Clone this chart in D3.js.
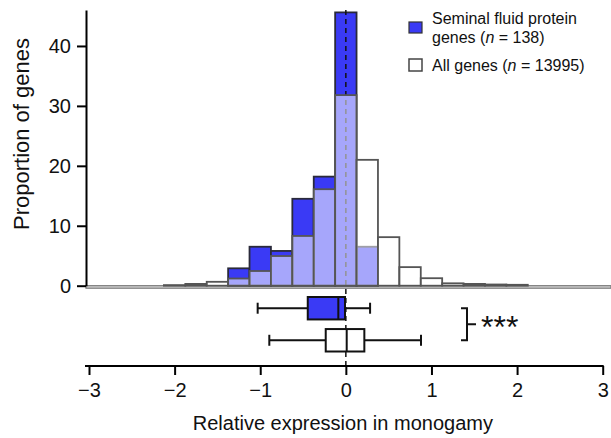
<!DOCTYPE html>
<html>
<head>
<meta charset="utf-8">
<script src="https://cdn.jsdelivr.net/npm/d3@7"></script>
<style>
  body { margin: 0; background: #fff; }
  text { font-family: "Liberation Sans", Arial, sans-serif; fill: #111; }
</style>
</head>
<body>
<div id="chart"></div>
<script>
// Histogram bins (centre of each 0.25-wide bin) and percentages.
var binWidth = 0.25;
var allCenters = [-2, -1.75, -1.5, -1.25, -1, -0.75, -0.5, -0.25, 0, 0.25, 0.5, 0.75, 1, 1.25, 1.5, 1.75, 2];
var allValues = [0.1, 0.3, 0.65, 1.2, 2.45, 4.95, 8.3, 16.1, 31.8, 21.0, 8.1, 3.1, 1.25, 0.4, 0.3, 0.2, 0.15];
var sfpCenters = [-1.25, -1, -0.75, -0.5, -0.25, 0, 0.25];
var sfpValues = [2.9, 6.5, 5.8, 14.5, 18.2, 45.6, 6.5];

// Box plots: [low whisker, q1, median, q3, high whisker].
var boxNames = ["sfp", "all"];
var boxStats = [
  [-1.03, -0.445, -0.088, -0.01, 0.283],
  [-0.894, -0.235, 0.01, 0.216, 0.878]
];

var xTicks = [-3, -2, -1, 0, 1, 2, 3];
var yTicks = [0, 10, 20, 30, 40];

var svgWidth = 611;
var svgHeight = 438;
var blue = "#3a3af5";

var svg = d3.select("#chart")
  .append("svg")
  .attr("width", svgWidth)
  .attr("height", svgHeight);

// Scales.
var x = d3.scaleLinear().domain([-3, 3]).range([89, 602.7]);
var y = d3.scaleLinear().domain([0, 46]).range([285.7, 10]);
var yBox = d3.scaleBand().domain(boxNames).range([297, 351.5]).paddingInner(0.3);

var sfp = sfpCenters.map((c, i) => ({c: c, v: sfpValues[i]}));
var all = allCenters.map((c, i) => ({c: c, v: allValues[i]}));

// Baseline strip of empty bins.
svg.append("rect")
  .attr("x", 86)
  .attr("y", y(0))
  .attr("width", svgWidth - 86)
  .attr("height", 2.5)
  .attr("fill", "#d5d5d5")
  .attr("stroke", "#7a7a7a")
  .attr("stroke-width", 1.2);

// Seminal fluid protein bars.
svg.selectAll(".sfp")
  .data(sfp)
  .enter()
  .append("rect")
  .attr("class", "sfp")
  .attr("x", d => x(d.c - binWidth / 2))
  .attr("y", d => y(d.v))
  .attr("width", d => x(d.c + binWidth / 2) - x(d.c - binWidth / 2))
  .attr("height", d => y(0) - y(d.v))
  .attr("fill", blue)
  .attr("stroke", "#2a2a3a")
  .attr("stroke-width", 1.8);

// Dashed line at zero.
svg.append("line")
  .attr("x1", x(0))
  .attr("x2", x(0))
  .attr("y1", y(46))
  .attr("y2", 366)
  .attr("stroke", "#111")
  .attr("stroke-width", 1.5)
  .attr("stroke-dasharray", "5,4");

// All genes bars, translucent white over the blue.
svg.selectAll(".all")
  .data(all)
  .enter()
  .append("rect")
  .attr("class", "all")
  .attr("x", d => x(d.c - binWidth / 2))
  .attr("y", d => y(d.v))
  .attr("width", d => x(d.c + binWidth / 2) - x(d.c - binWidth / 2))
  .attr("height", d => y(0) - y(d.v))
  .attr("fill", "#fff")
  .attr("fill-opacity", 0.55)
  .attr("stroke", "#555")
  .attr("stroke-width", 1.8);

// Y axis.
var leftAxis = d3.axisLeft(y).tickValues(yTicks).tickSize(9).tickSizeOuter(0).tickPadding(6);
var gy = svg.append("g")
  .attr("transform", "translate(86,0)")
  .call(leftAxis);
gy.select(".domain").attr("stroke-width", 2);
gy.selectAll(".tick line").attr("stroke-width", 2);
gy.selectAll(".tick text").attr("font-size", 20).attr("font-family", "Liberation Sans, Arial, sans-serif").attr("fill", "#111");

svg.append("text")
  .attr("transform", "translate(29,134) rotate(-90)")
  .attr("text-anchor", "middle")
  .attr("font-size", 22)
  .text("Proportion of genes");

// Box plots.
var boxes = svg.selectAll(".box")
  .data(boxStats)
  .enter()
  .append("g")
  .attr("class", "box");

boxes.each(function(s, i) {
  var g = d3.select(this);
  var top = yBox(boxNames[i]);
  var h = yBox.bandwidth();
  var mid = top + h / 2;
  g.append("line").attr("x1", x(s[0])).attr("x2", x(s[1])).attr("y1", mid).attr("y2", mid);
  g.append("line").attr("x1", x(s[3])).attr("x2", x(s[4])).attr("y1", mid).attr("y2", mid);
  g.append("line").attr("x1", x(s[0])).attr("x2", x(s[0])).attr("y1", mid - 5.5).attr("y2", mid + 5.5);
  g.append("line").attr("x1", x(s[4])).attr("x2", x(s[4])).attr("y1", mid - 5.5).attr("y2", mid + 5.5);
  g.append("rect")
    .attr("x", x(s[1]))
    .attr("y", top)
    .attr("width", x(s[3]) - x(s[1]))
    .attr("height", h)
    .attr("fill", i === 0 ? blue : "#fff");
  g.append("line").attr("x1", x(s[2])).attr("x2", x(s[2])).attr("y1", top).attr("y2", top + h);
  g.selectAll("line, rect").attr("stroke", "#111").attr("stroke-width", 2);
});

// Significance bracket.
var y1 = yBox("sfp") + yBox.bandwidth() / 2;
var y2 = yBox("all") + yBox.bandwidth() / 2;
var bx = x(1.415);
svg.append("path")
  .attr("d", `M${bx - 6},${y1}H${bx}V${y2}H${bx - 6}M${bx},${(y1 + y2) / 2}H${bx + 9}`)
  .attr("fill", "none")
  .attr("stroke", "#111")
  .attr("stroke-width", 2);
svg.append("text")
  .attr("x", bx + 14)
  .attr("y", (y1 + y2) / 2 + 14)
  .attr("font-size", 32)
  .text("***");

// X axis.
var bottomAxis = d3.axisBottom(x).tickValues(xTicks).tickSize(9).tickSizeOuter(0).tickPadding(8).tickFormat(d3.format("d"));
var gx = svg.append("g")
  .attr("transform", "translate(0,366)")
  .call(bottomAxis);
gx.select(".domain").attr("d", `M${x(-3) - 4},0H${x(3) + 1}`).attr("stroke-width", 2);
gx.selectAll(".tick line").attr("stroke-width", 2);
gx.selectAll(".tick text").attr("font-size", 20).attr("font-family", "Liberation Sans, Arial, sans-serif").attr("fill", "#111");

svg.append("text")
  .attr("x", x(0) - 3)
  .attr("y", 430)
  .attr("text-anchor", "middle")
  .attr("font-size", 20)
  .text("Relative expression in monogamy");

// Legend.
var legend = svg.append("g").attr("transform", "translate(409,22)");
legend.append("rect").attr("x", 0).attr("y", 0).attr("width", 13).attr("height", 11)
  .attr("fill", blue).attr("stroke", "#333").attr("stroke-width", 1.2);
legend.append("rect").attr("x", 0).attr("y", 37).attr("width", 13).attr("height", 12)
  .attr("fill", "#fff").attr("stroke", "#444").attr("stroke-width", 1.5);
legend.append("text").attr("x", 23).attr("y", 2).attr("font-size", 16).text("Seminal fluid protein");
var l2 = legend.append("text").attr("x", 23).attr("y", 20.5).attr("font-size", 16);
l2.append("tspan").text("genes (");
l2.append("tspan").attr("font-style", "italic").text("n");
l2.append("tspan").text(" = 138)");
var l3 = legend.append("text").attr("x", 23).attr("y", 49).attr("font-size", 16);
l3.append("tspan").text("All genes (");
l3.append("tspan").attr("font-style", "italic").text("n");
l3.append("tspan").text(" = 13995)");
</script>
</body>
</html>
